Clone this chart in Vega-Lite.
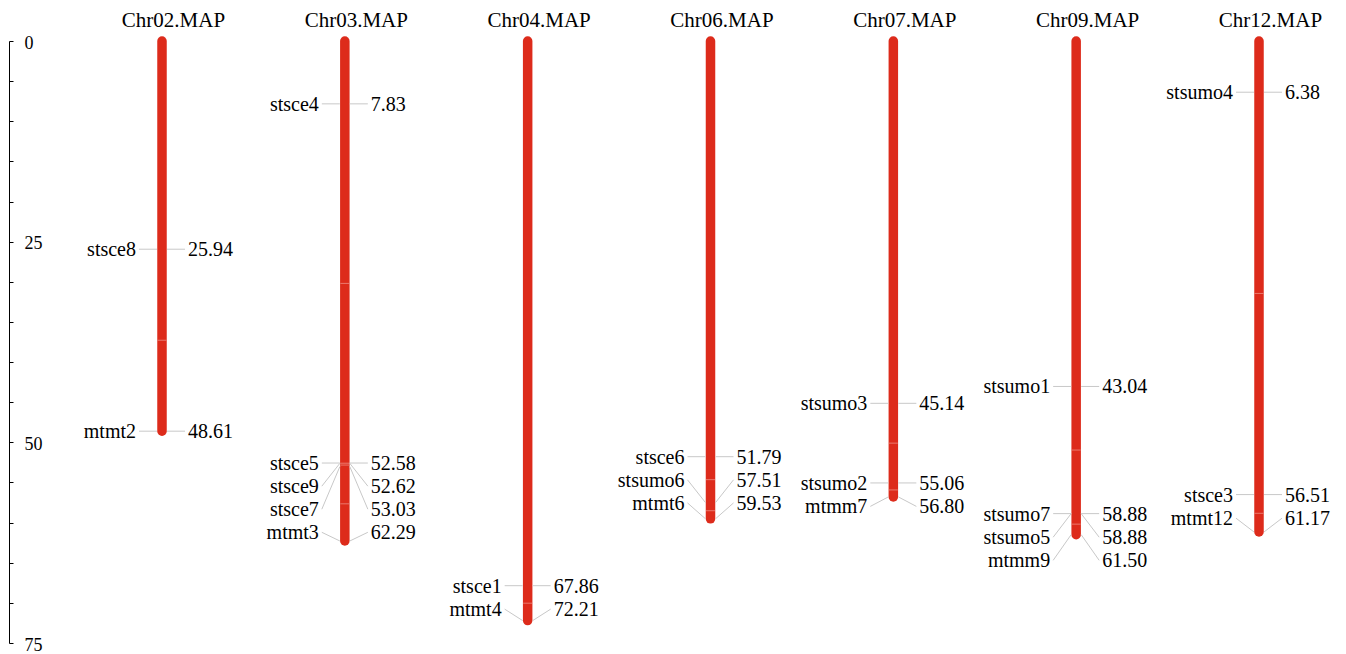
{
  "$schema": "https://vega.github.io/schema/vega-lite/v6.json",
  "autosize": {"type": "none"},
  "padding": {"left": 9, "top": 41, "right": 0, "bottom": 11},
  "width": 1337,
  "height": 602,
  "config": {
    "view": {"stroke": null},
    "font": "Liberation Serif",
    "text": {"font": "Liberation Serif"}
  },
  "datasets": {
    "chroms": [
      {"chrom": "Chr02.MAP", "start": 0, "end": 48.61},
      {"chrom": "Chr03.MAP", "start": 0, "end": 62.29},
      {"chrom": "Chr04.MAP", "start": 0, "end": 72.21},
      {"chrom": "Chr06.MAP", "start": 0, "end": 59.53},
      {"chrom": "Chr07.MAP", "start": 0, "end": 56.80},
      {"chrom": "Chr09.MAP", "start": 0, "end": 61.50},
      {"chrom": "Chr12.MAP", "start": 0, "end": 61.17}
    ],
    "bounds": [
      {"chrom": "Chr02.MAP", "pos": 37.28},
      {"chrom": "Chr03.MAP", "pos": 30.2},
      {"chrom": "Chr03.MAP", "pos": 52.6},
      {"chrom": "Chr03.MAP", "pos": 52.83},
      {"chrom": "Chr03.MAP", "pos": 57.66},
      {"chrom": "Chr04.MAP", "pos": 70.04},
      {"chrom": "Chr06.MAP", "pos": 54.65},
      {"chrom": "Chr06.MAP", "pos": 58.52},
      {"chrom": "Chr07.MAP", "pos": 50.1},
      {"chrom": "Chr07.MAP", "pos": 55.93},
      {"chrom": "Chr09.MAP", "pos": 50.96},
      {"chrom": "Chr09.MAP", "pos": 60.19},
      {"chrom": "Chr12.MAP", "pos": 31.45},
      {"chrom": "Chr12.MAP", "pos": 58.84}
    ],
    "markers": [
      {"chrom": "Chr02.MAP", "marker": "stsce8", "pos": 25.94, "labelPos": 25.94},
      {"chrom": "Chr02.MAP", "marker": "mtmt2", "pos": 48.61, "labelPos": 48.61},
      {"chrom": "Chr03.MAP", "marker": "stsce4", "pos": 7.83, "labelPos": 7.83},
      {"chrom": "Chr03.MAP", "marker": "stsce5", "pos": 52.58, "labelPos": 52.58},
      {"chrom": "Chr03.MAP", "marker": "stsce9", "pos": 52.62, "labelPos": 55.46},
      {"chrom": "Chr03.MAP", "marker": "stsce7", "pos": 53.03, "labelPos": 58.33},
      {"chrom": "Chr03.MAP", "marker": "mtmt3", "pos": 62.29, "labelPos": 61.21},
      {"chrom": "Chr04.MAP", "marker": "stsce1", "pos": 67.86, "labelPos": 67.86},
      {"chrom": "Chr04.MAP", "marker": "mtmt4", "pos": 72.21, "labelPos": 70.78},
      {"chrom": "Chr06.MAP", "marker": "stsce6", "pos": 51.79, "labelPos": 51.79},
      {"chrom": "Chr06.MAP", "marker": "stsumo6", "pos": 57.51, "labelPos": 54.67},
      {"chrom": "Chr06.MAP", "marker": "mtmt6", "pos": 59.53, "labelPos": 57.55},
      {"chrom": "Chr07.MAP", "marker": "stsumo3", "pos": 45.14, "labelPos": 45.14},
      {"chrom": "Chr07.MAP", "marker": "stsumo2", "pos": 55.06, "labelPos": 55.06},
      {"chrom": "Chr07.MAP", "marker": "mtmm7", "pos": 56.80, "labelPos": 57.98},
      {"chrom": "Chr09.MAP", "marker": "stsumo1", "pos": 43.04, "labelPos": 43.04},
      {"chrom": "Chr09.MAP", "marker": "stsumo7", "pos": 58.88, "labelPos": 58.88},
      {"chrom": "Chr09.MAP", "marker": "stsumo5", "pos": 58.88, "labelPos": 61.82},
      {"chrom": "Chr09.MAP", "marker": "mtmm9", "pos": 61.50, "labelPos": 64.7},
      {"chrom": "Chr12.MAP", "marker": "stsumo4", "pos": 6.38, "labelPos": 6.38},
      {"chrom": "Chr12.MAP", "marker": "stsce3", "pos": 56.51, "labelPos": 56.51},
      {"chrom": "Chr12.MAP", "marker": "mtmt12", "pos": 61.17, "labelPos": 59.45}
    ]
  },
  "encoding": {
    "x": {
      "field": "chrom",
      "type": "nominal",
      "scale": {
        "type": "point",
        "domain": ["Chr02.MAP", "Chr03.MAP", "Chr04.MAP", "Chr06.MAP", "Chr07.MAP", "Chr09.MAP", "Chr12.MAP"],
        "range": [153, 1250],
        "padding": 0
      },
      "axis": {
        "orient": "top",
        "title": null,
        "domain": false,
        "ticks": false,
        "tickSize": 0,
        "labelPadding": 15,
        "labelBaseline": "alphabetic",
        "labelAngle": 0,
        "labelOffset": 11,
        "labelFont": "Liberation Serif",
        "labelFontSize": 21,
        "labelColor": "#000000",
        "labelFlush": false,
        "labelOverlap": false
      }
    }
  },
  "layer": [
    {
      "data": {"name": "chroms"},
      "mark": {"type": "rule", "color": "#dd2b1b", "strokeWidth": 9.5, "strokeCap": "round"},
      "encoding": {
        "y": {
          "field": "start",
          "type": "quantitative",
          "scale": {"domain": [0, 75], "reverse": true, "nice": false, "zero": false},
          "axis": {
            "orient": "right",
            "offset": -1337,
            "title": null,
            "grid": false,
            "values": [0, 5, 10, 15, 20, 25, 30, 35, 40, 45, 50, 55, 60, 65, 70, 75],
            "labelExpr": "datum.value % 25 === 0 ? datum.label : ''",
            "tickSize": 4,
            "tickColor": "#000000",
            "domainColor": "#000000",
            "labelAlign": "left",
            "labelBaseline": "middle",
            "labelPadding": 11,
            "labelOffset": 2,
            "labelFont": "Liberation Serif",
            "labelFontSize": 18,
            "labelColor": "#000000",
            "labelFlush": false,
            "labelOverlap": false
          }
        },
        "y2": {"field": "end"}
      }
    },
    {
      "data": {"name": "bounds"},
      "mark": {"type": "tick", "orient": "horizontal", "color": "#ef9a90", "size": 9, "thickness": 1, "opacity": 0.7},
      "encoding": {
        "y": {"field": "pos", "type": "quantitative"}
      }
    },
    {
      "data": {"name": "markers"},
      "mark": {"type": "rule", "color": "#c8c8c8", "strokeWidth": 1, "xOffset": -23, "x2Offset": -5},
      "encoding": {
        "x2": {"field": "chrom"},
        "y": {"field": "labelPos", "type": "quantitative"},
        "y2": {"field": "pos"}
      }
    },
    {
      "data": {"name": "markers"},
      "mark": {"type": "rule", "color": "#c8c8c8", "strokeWidth": 1, "xOffset": 23, "x2Offset": 5},
      "encoding": {
        "x2": {"field": "chrom"},
        "y": {"field": "labelPos", "type": "quantitative"},
        "y2": {"field": "pos"}
      }
    },
    {
      "data": {"name": "markers"},
      "mark": {"type": "text", "align": "right", "baseline": "middle", "dx": -26, "dy": 1, "fontSize": 20, "color": "#000000"},
      "encoding": {
        "y": {"field": "labelPos", "type": "quantitative"},
        "text": {"field": "marker"}
      }
    },
    {
      "data": {"name": "markers"},
      "mark": {"type": "text", "align": "left", "baseline": "middle", "dx": 26, "dy": 1, "fontSize": 20, "color": "#000000"},
      "encoding": {
        "y": {"field": "labelPos", "type": "quantitative"},
        "text": {"field": "pos", "type": "quantitative", "format": ".2f"}
      }
    }
  ]
}
